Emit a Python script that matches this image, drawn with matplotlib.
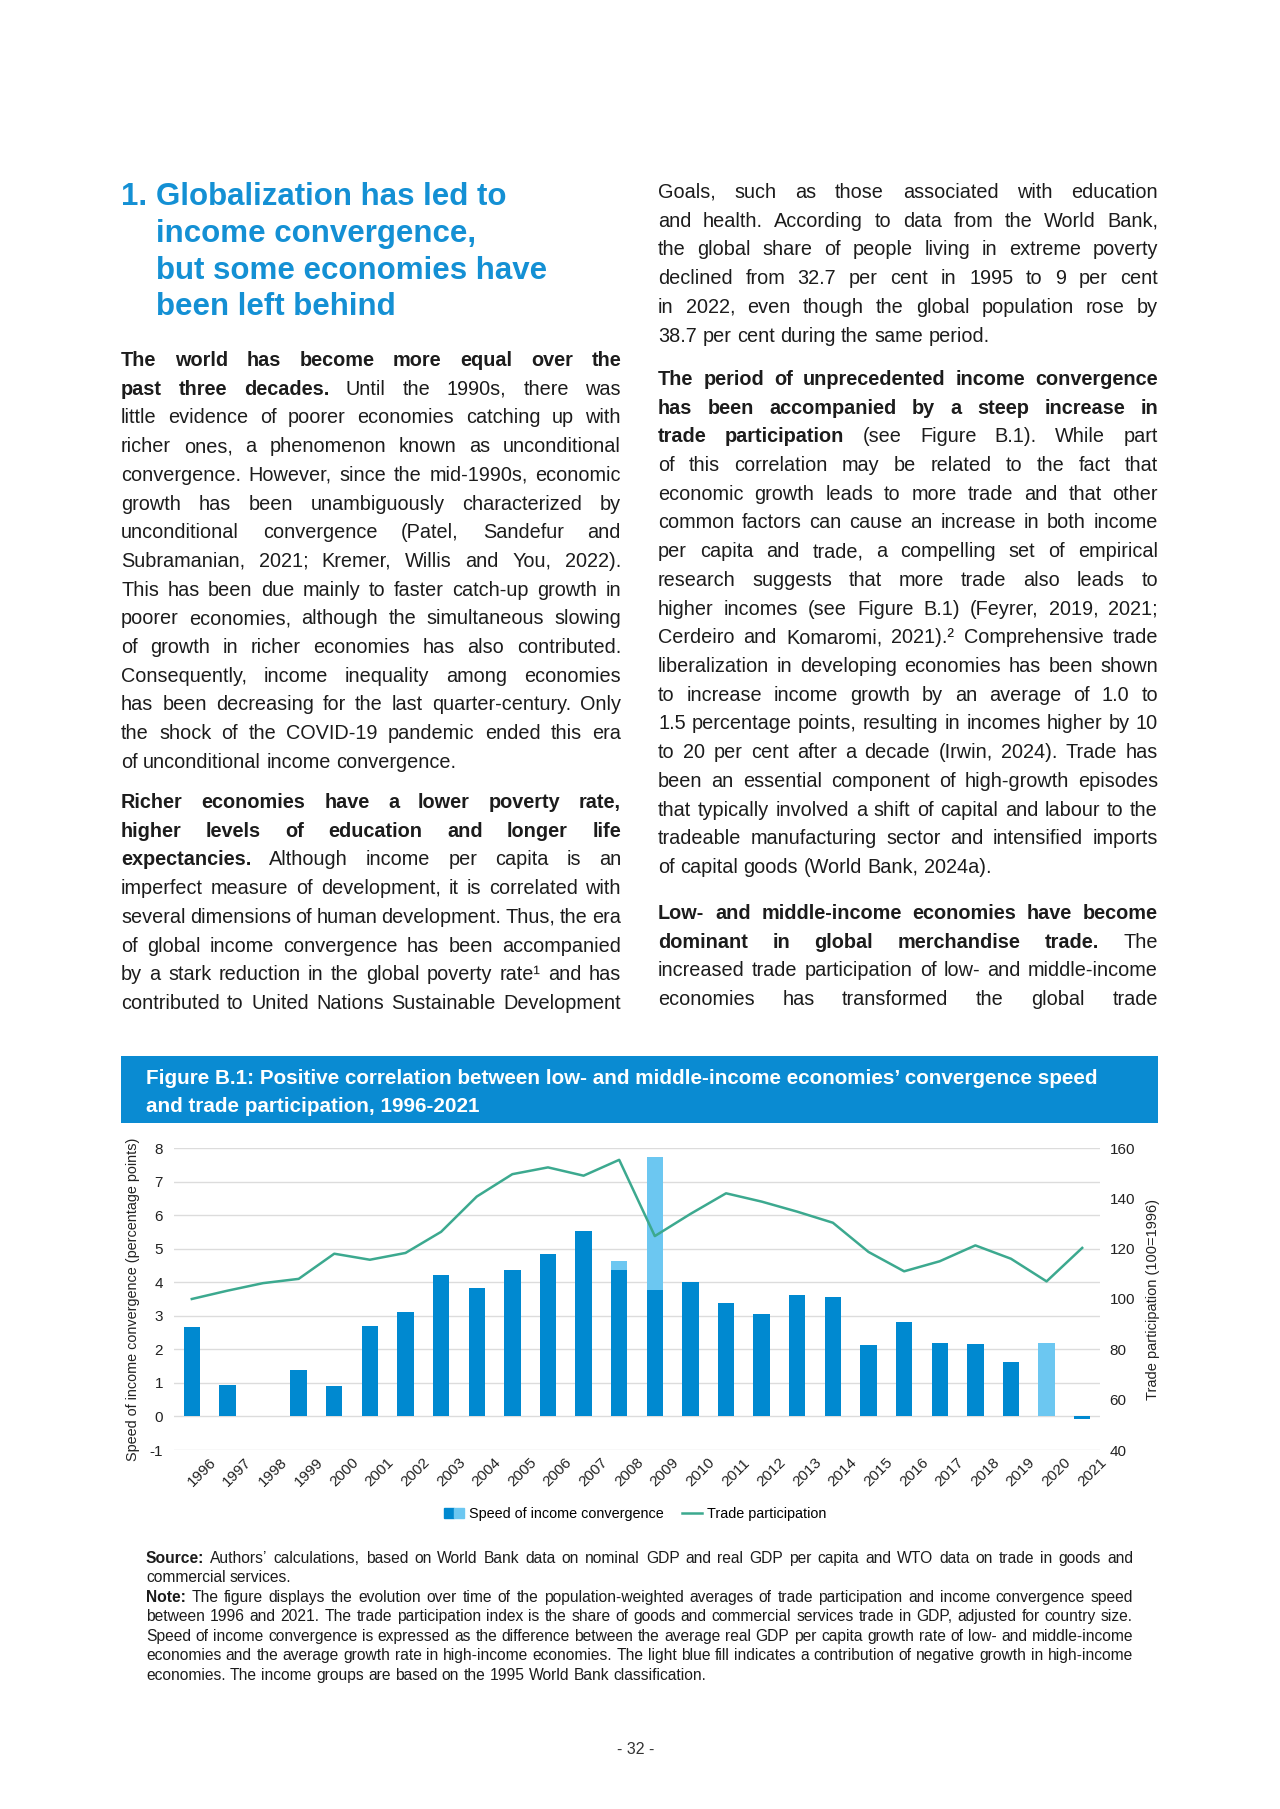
import matplotlib
matplotlib.use('Agg')
import matplotlib.pyplot as plt
import numpy as np
from matplotlib import font_manager, transforms
from matplotlib.patches import Rectangle, Patch
from matplotlib.lines import Line2D
from matplotlib.legend_handler import HandlerTuple

plt.rcParams['axes.unicode_minus'] = False

# Chart data

years = ['1996', '1997', '1998', '1999', '2000', '2001', '2002', '2003', '2004',
         '2005', '2006', '2007', '2008', '2009', '2010', '2011', '2012', '2013',
         '2014', '2015', '2016', '2017', '2018', '2019', '2020', '2021']
conv_dark = [2.67, 0.95, 0.02, 1.37, 0.92, 2.70, 3.12, 4.23, 3.82, 4.37, 4.83, 5.53, 4.37,
             3.77, 4.02, 3.37, 3.05, 3.63, 3.57, 2.12, 2.82, 2.20, 2.15, 1.63, 0.00, -0.08]
conv_light = [0, 0, 0, 0, 0, 0, 0, 0, 0, 0, 0, 0, 0.26,
              3.95, 0, 0, 0, 0, 0, 0, 0, 0, 0, 0, 2.20, 0]
trade = [100.0, 103.3, 106.3, 108.0, 118.0, 115.6, 118.3, 126.7, 140.7, 149.6, 152.3, 149.0, 155.3,
         125.0, 133.8, 142.0, 138.7, 134.7, 130.3, 118.7, 111.0, 115.0, 121.3, 116.0, 107.0, 120.3]
left_ticks = [-1, 0, 1, 2, 3, 4, 5, 6, 7, 8]
right_ticks = [40, 60, 80, 100, 120, 140, 160]

# Page text, one tuple per printed line: (bold part, regular part)

heading = ['Globalization has led to', 'income convergence,',
           'but some economies have', 'been left behind']

left_p1 = [
    ('The world has become more equal over the', ''),
    ('past three decades.', 'Until the 1990s, there was'),
    ('', 'little evidence of poorer economies catching up with'),
    ('', 'richer ones, a phenomenon known as unconditional'),
    ('', 'convergence. However, since the mid-1990s, economic'),
    ('', 'growth has been unambiguously characterized by'),
    ('', 'unconditional convergence (Patel, Sandefur and'),
    ('', 'Subramanian, 2021; Kremer, Willis and You, 2022).'),
    ('', 'This has been due mainly to faster catch-up growth in'),
    ('', 'poorer economies, although the simultaneous slowing'),
    ('', 'of growth in richer economies has also contributed.'),
    ('', 'Consequently, income inequality among economies'),
    ('', 'has been decreasing for the last quarter-century. Only'),
    ('', 'the shock of the COVID-19 pandemic ended this era'),
    ('', 'of unconditional income convergence.'),
]
left_p2 = [
    ('Richer economies have a lower poverty rate,', ''),
    ('higher levels of education and longer life', ''),
    ('expectancies.', 'Although income per capita is an'),
    ('', 'imperfect measure of development, it is correlated with'),
    ('', 'several dimensions of human development. Thus, the era'),
    ('', 'of global income convergence has been accompanied'),
    ('', 'by a stark reduction in the global poverty rate\u00b9 and has'),
    ('', 'contributed to United Nations Sustainable Development'),
]
right_p1 = [
    ('', 'Goals, such as those associated with education'),
    ('', 'and health. According to data from the World Bank,'),
    ('', 'the global share of people living in extreme poverty'),
    ('', 'declined from 32.7 per cent in 1995 to 9 per cent'),
    ('', 'in 2022, even though the global population rose by'),
    ('', '38.7 per cent during the same period.'),
]
right_p2 = [
    ('The period of unprecedented income convergence', ''),
    ('has been accompanied by a steep increase in', ''),
    ('trade participation', '(see Figure B.1). While part'),
    ('', 'of this correlation may be related to the fact that'),
    ('', 'economic growth leads to more trade and that other'),
    ('', 'common factors can cause an increase in both income'),
    ('', 'per capita and trade, a compelling set of empirical'),
    ('', 'research suggests that more trade also leads to'),
    ('', 'higher incomes (see Figure B.1) (Feyrer, 2019, 2021;'),
    ('', 'Cerdeiro and Komaromi, 2021).\u00b2 Comprehensive trade'),
    ('', 'liberalization in developing economies has been shown'),
    ('', 'to increase income growth by an average of 1.0 to'),
    ('', '1.5 percentage points, resulting in incomes higher by 10'),
    ('', 'to 20 per cent after a decade (Irwin, 2024). Trade has'),
    ('', 'been an essential component of high-growth episodes'),
    ('', 'that typically involved a shift of capital and labour to the'),
    ('', 'tradeable manufacturing sector and intensified imports'),
    ('', 'of capital goods (World Bank, 2024a).'),
]
right_p3 = [
    ('Low- and middle-income economies have become', ''),
    ('dominant in global merchandise trade.', 'The'),
    ('', 'increased trade participation of low- and middle-income'),
    ('', 'economies has transformed the global trade'),
]
title_lines = ['Figure B.1: Positive correlation between low- and middle-income economies\u2019 convergence speed',
               'and trade participation, 1996-2021']
source_lines = [
    ('Source:', 'Authors\u2019 calculations, based on World Bank data on nominal GDP and real GDP per capita and WTO data on trade in goods and'),
    ('', 'commercial services.'),
]
note_lines = [
    ('Note:', 'The figure displays the evolution over time of the population-weighted averages of trade participation and income convergence speed'),
    ('', 'between 1996 and 2021. The trade participation index is the share of goods and commercial services trade in GDP, adjusted for country size.'),
    ('', 'Speed of income convergence is expressed as the difference between the average real GDP per capita growth rate of low- and middle-income'),
    ('', 'economies and the average growth rate in high-income economies. The light blue fill indicates a contribution of negative growth in high-income'),
    ('', 'economies. The income groups are based on the 1995 World Bank classification.'),
]

# Colours and fonts

DARK = '#0089d0'
LIGHT = '#6cc7f1'
TEAL = '#3ca98f'
HEAD = '#1490d4'
BOXC = '#0a8bd2'
TXT = '#1c1c1c'
FAM = 'Liberation Sans'
try:
    font_manager.findfont('Liberation Sans Narrow', fallback_to_default=False)
    NARROW = 'Liberation Sans Narrow'
except Exception:
    NARROW = FAM

W, H = 1280, 1809
fig = plt.figure(figsize=(W / 100, H / 100), dpi=100)
fig.patch.set_facecolor('white')
rend = fig.canvas.get_renderer()

# Text helpers (pixel coordinates from top-left)

_cache = {}

def tw(s, size, bold, fam):
    key = (s, round(size, 3), bold, fam)
    if key not in _cache:
        t = fig.text(0, 0, s, fontsize=size, fontweight='bold' if bold else 'normal', family=fam)
        _cache[key] = t.get_window_extent(rend).width
        t.remove()
    return _cache[key]

def space_w(size, fam):
    return tw('n n', size, False, fam) - tw('nn', size, False, fam)

def words(b, r):
    return [(w, True) for w in b.split()] + [(w, False) for w in r.split()]

def fit(lines, width, size, fam, tight=0.9):
    sp = space_w(size, fam)
    worst = 0
    for b, r in lines:
        ws = words(b, r)
        nat = sum(tw(w, size, bb, fam) for w, bb in ws) + (len(ws) - 1) * sp * tight
        worst = max(worst, nat)
    return size * min(1.0, width / worst)

def draw_par(lines, x0, y0, pitch, width, size, fam, color, ragged_last=True):
    sp = space_w(size, fam)
    for i, (b, r) in enumerate(lines):
        ws = words(b, r)
        wl = [tw(w, size, bb, fam) for w, bb in ws]
        ragged = ragged_last and i == len(lines) - 1
        gap = sp if ragged or len(ws) < 2 else (width - sum(wl)) / (len(ws) - 1)
        x = x0
        yb = y0 + i * pitch
        for (w, bb), ww in zip(ws, wl):
            fig.text(x / W, 1 - yb / H, w, fontsize=size, fontweight='bold' if bb else 'normal',
                     family=fam, color=color, va='baseline', ha='left')
            x += ww + gap

# Heading

hsize = 20 * 390 / tw(heading[2], 20, True, FAM)
fig.text(121 / W, 1 - 205 / H, '1.', fontsize=hsize, fontweight='bold', family=FAM,
         color=HEAD, va='baseline')
for i, s in enumerate(heading):
    fig.text(156 / W, 1 - (205 + i * 36.8) / H, s, fontsize=hsize, fontweight='bold',
             family=FAM, color=HEAD, va='baseline')

# Body columns

colw = 500
bsize = fit(left_p1 + left_p2 + right_p1 + right_p2 + right_p3, colw, 15.5, FAM)
pitch = 28.7
draw_par(left_p1, 121, 366, pitch, colw, bsize, FAM, TXT)
draw_par(left_p2, 121, 808, pitch, colw, bsize, FAM, TXT, ragged_last=False)
draw_par(right_p1, 658, 198, pitch, colw, bsize, FAM, TXT)
draw_par(right_p2, 658, 385, pitch, colw, bsize, FAM, TXT)
draw_par(right_p3, 658, 919, pitch, colw, bsize, FAM, TXT, ragged_last=False)

# Figure title box

fig.patches.append(Rectangle((121 / W, 1 - 1123 / H), (1158 - 121) / W, (1123 - 1056) / H,
                             transform=fig.transFigure, facecolor=BOXC, edgecolor='none'))
tsize = 13 * 950 / tw(title_lines[0], 13, True, FAM)
fig.text(146 / W, 1 - 1084 / H, title_lines[0], fontsize=tsize, fontweight='bold',
         family=FAM, color='white', va='baseline')
fig.text(146 / W, 1 - 1112 / H, title_lines[1], fontsize=tsize, fontweight='bold',
         family=FAM, color='white', va='baseline')

# Chart

ax = fig.add_axes([174 / W, 1 - 1450 / H, (1100 - 174) / W, (1450 - 1148) / H])
x = np.arange(len(years))
ax.bar(x, conv_dark, width=0.46, color=DARK, zorder=2)
ax.bar(x, conv_light, bottom=conv_dark, width=0.46, color=LIGHT, zorder=2)
ax.set_xlim(-0.5, len(years) - 0.5)
ax.set_ylim(-1, 8)
ax.set_yticks(left_ticks)
ax.grid(axis='y', color='#dcdcdc', lw=1.0, zorder=0)
ax.set_axisbelow(True)
ax.set_xticks(x)
ax.set_xticklabels(years, rotation=45, ha='right', va='top', rotation_mode='anchor',
                   fontsize=11, family=FAM, color='#222222')
ax.tick_params(axis='x', length=0, pad=4)
ax.tick_params(axis='y', length=0, pad=8, labelsize=11, labelcolor='#222222')
for lbl in ax.get_yticklabels():
    lbl.set_family(FAM)
shift = transforms.ScaledTranslation(0.17, 0, fig.dpi_scale_trans)
for lbl in ax.get_xticklabels():
    lbl.set_transform(lbl.get_transform() + shift)
ax.set_ylabel('Speed of income convergence (percentage points)', fontsize=10.4, family=FAM,
              color='#222222')
ax.yaxis.set_label_coords(-0.037, 0.5)
for sp in ax.spines.values():
    sp.set_visible(False)

ax2 = ax.twinx()
ax2.plot(x, trade, color=TEAL, lw=1.8, zorder=3)
ax2.set_ylim(40, 160)
ax2.set_yticks(right_ticks)
ax2.tick_params(axis='y', length=0, pad=7, labelsize=11, labelcolor='#222222')
for lbl in ax2.get_yticklabels():
    lbl.set_family(FAM)
ax2.set_ylabel('Trade participation (100=1996)', fontsize=10.5, family=FAM, color='#222222')
ax2.yaxis.set_label_coords(1.05, 0.5)
for sp in ax2.spines.values():
    sp.set_visible(False)

handles = [(Patch(color=DARK), Patch(color=LIGHT)), Line2D([], [], color=TEAL, lw=1.8)]
fig.legend(handles, ['Speed of income convergence', 'Trade participation'],
           handler_map={tuple: HandlerTuple(ndivide=None, pad=0)},
           loc='center', bbox_to_anchor=(635 / W, 1 - 1514 / H), ncol=2, frameon=False,
           prop={'family': FAM, 'size': 10.4}, handlelength=1.4, handleheight=0.75,
           handletextpad=0.3, columnspacing=1.3)

# Source and note

nw = 1133 - 146
nsize = fit(source_lines + note_lines, nw, 12.5, NARROW, tight=0.95)
draw_par(source_lines, 146, 1563, 19.4, nw, nsize, NARROW, TXT)
draw_par(note_lines, 146, 1602, 19.4, nw, nsize, NARROW, TXT)

# Page number

fig.text(636 / W, 1 - 1749 / H, '- 32 -', fontsize=11.5, family=FAM, color='#333333',
         ha='center', va='center')

fig.savefig('out.png', dpi=100, facecolor='white')
